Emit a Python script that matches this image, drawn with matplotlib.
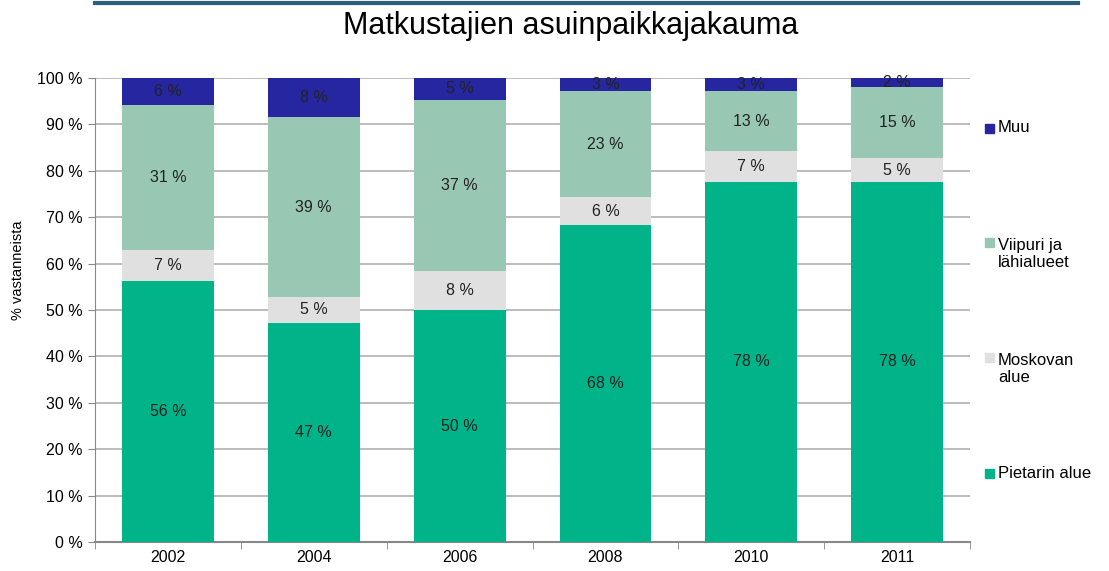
import numpy as np
import matplotlib.pyplot as plt
from matplotlib.patches import Rectangle
from matplotlib.lines import Line2D

plt.rcParams['font.family'] = ['Liberation Sans', 'DejaVu Sans']

# data (percent of respondents)
years = ['2002', '2004', '2006', '2008', '2010', '2011']
pietari = [56.3, 47.3, 49.9, 68.3, 77.6, 77.6]
moskova = [6.7, 5.4, 8.4, 6.0, 6.6, 5.1]
viipuri = [31.2, 38.9, 37.0, 22.9, 13.0, 15.4]
muu = [5.8, 8.4, 4.7, 2.8, 2.8, 1.9]

series = [
    ('Pietarin alue', pietari, '#00B389'),
    ('Moskovan\nalue', moskova, '#E0E0E0'),
    ('Viipuri ja\nlähialueet', viipuri, '#98C8B4'),
    ('Muu', muu, '#2626A0'),
]

fig = plt.figure(figsize=(11.09, 5.71), dpi=100)
ax = fig.add_axes([0.0857, 0.0508, 0.789, 0.8126])

x = np.arange(len(years))
bottom = np.zeros(len(years))
for name, vals, col in series:
    vals = np.array(vals)
    ax.bar(x, vals, bottom=bottom, width=0.63, color=col, zorder=3)
    for xi, b, v in zip(x, bottom, vals):
        ax.text(xi, b + v / 2, f'{round(v):d} %', ha='center', va='center',
                fontsize=11.5, color='#222222', zorder=4)
    bottom += vals

ax.set_xlim(-0.5, len(years) - 0.5)
ax.set_ylim(0, 100)
ax.set_yticks(np.arange(0, 101, 10))
ax.set_yticklabels([f'{v} %' for v in range(0, 101, 10)], fontsize=11.5)
ax.set_xticks(x)
ax.set_xticklabels(years, fontsize=11.5)
ax.set_xticks(np.arange(-0.5, len(years)), minor=True)
ax.tick_params(axis='x', which='major', length=0, pad=6)
ax.tick_params(axis='x', which='minor', length=5, color='#888888')
ax.tick_params(axis='y', length=5, color='#888888', pad=4)
ax.grid(axis='y', color='#B0B0B0', linewidth=1.2, zorder=0)
for s in ['top', 'right']:
    ax.spines[s].set_visible(False)
ax.spines['left'].set_color('#888888')
ax.spines['bottom'].set_color('#888888')
ax.spines['bottom'].set_linewidth(1.5)

fig.text(18 / 1109, 1 - 270 / 571, '% vastanneista', rotation=90,
         ha='center', va='center', fontsize=10.5)
fig.text(0.515, 0.955, 'Matkustajien asuinpaikkajakauma', ha='center', va='center',
         fontsize=22)
fig.add_artist(Line2D([0.086, 0.972], [0.995, 0.995], color='#2A5F7F', linewidth=3))

# legend drawn by hand
leg_y = [128, 254, 369, 473]
for (name, vals, col), yp in zip(series[::-1], leg_y):
    yf = 1 - yp / 571
    nlines = name.count('\n') + 1
    sq_y = yf + (nlines - 1) * 0.0205
    fig.add_artist(Rectangle((985 / 1109, sq_y - 0.009), 0.0085, 0.0165,
                             color=col, transform=fig.transFigure))
    fig.text(998 / 1109, yf, name, ha='left', va='center', fontsize=12,
             linespacing=1.15)

fig.savefig('out.png', dpi=100)
